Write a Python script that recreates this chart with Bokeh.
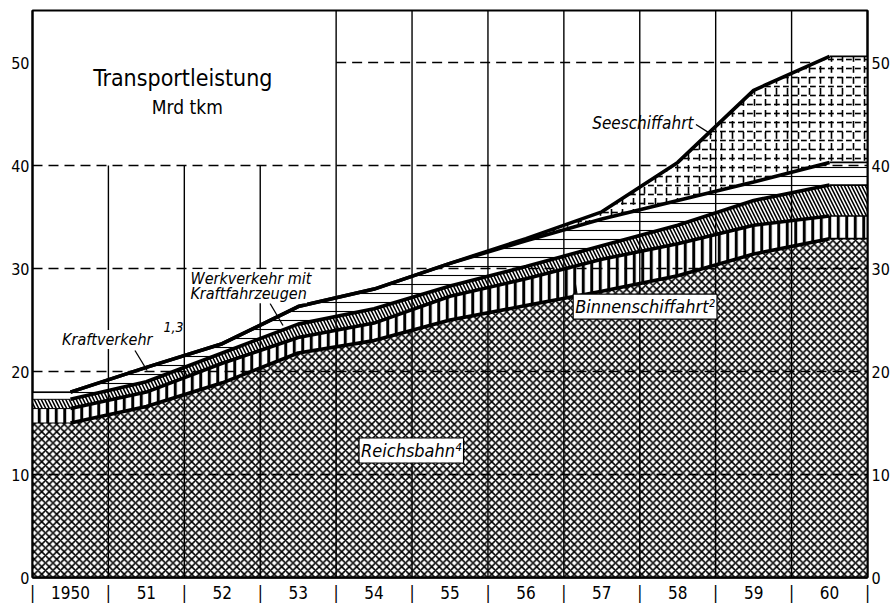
import numpy as np
from bokeh.plotting import figure
from bokeh.models import Range1d, LinearAxis, FixedTicker, Label, ColumnDataSource
from bokeh.embed import file_html
from bokeh.resources import INLINE

# ---------------- data (Mrd tkm) ----------------
years = [1950, 1951, 1952, 1953, 1954, 1955, 1956, 1957, 1958, 1959, 1960]
year_labels = ["1950", "51", "52", "53", "54", "55", "56", "57", "58", "59", "60"]
reichsbahn = [15.0, 16.6, 18.9, 21.8, 23.0, 25.0, 26.4, 27.8, 29.3, 31.4, 32.9]
binnenschiffahrt = [1.4, 1.4, 1.9, 1.5, 1.7, 2.3, 2.6, 3.1, 3.1, 2.8, 2.2]
kraftverkehr = [0.9, 1.0, 1.0, 1.3, 1.4, 1.0, 1.2, 1.3, 1.8, 2.4, 3.0]
werkverkehr = [0.7, 1.4, 0.9, 1.7, 1.9, 2.2, 2.5, 2.6, 2.4, 1.8, 2.2]
seeschiffahrt = [0.0, 0.0, 0.0, 0.0, 0.0, 0.0, 0.2, 0.7, 3.7, 8.9, 10.3]
y_ticks = [0, 10, 20, 30, 40, 50]

FONT = "DejaVu Sans Condensed"

# ------------- derived -------------
series = [reichsbahn, binnenschiffahrt, kraftverkehr, werkverkehr, seeschiffahrt]
cum = np.cumsum(np.array(series, dtype=float), axis=0)
lower = np.vstack([np.zeros(len(years)), cum[:-1]])

def ext(a):
    a = list(a)
    return [a[0]] + a + [a[-1]]

xs = [years[0] - 0.5] + list(years) + [years[-1] + 0.5]
x0, x1 = xs[0], xs[-1]
ytop = 55.05

p = figure(width=892, height=605, output_backend="svg", toolbar_location=None,
           x_range=Range1d(x0, x1), y_range=Range1d(0, ytop),
           min_border_left=32, min_border_right=23, min_border_top=10, min_border_bottom=28,
           y_axis_location="left")
p.xgrid.visible = False
p.ygrid.visible = False
p.outline_line_color = "black"
p.outline_line_width = 2
p.background_fill_color = "white"
p.border_fill_color = "white"

hatches = [
    dict(hatch_pattern="diagonal_cross", hatch_scale=7.5, hatch_weight=1.6),
    dict(hatch_pattern="vertical_line", hatch_scale=8.5, hatch_weight=3.0),
    dict(hatch_pattern="left_diagonal_line", hatch_scale=7, hatch_weight=1.6),
    dict(hatch_pattern="horizontal_line", hatch_scale=9, hatch_weight=1.1),
]

for i in range(4):
    src = ColumnDataSource(dict(x=xs, lo=ext(lower[i]), hi=ext(cum[i])))
    p.varea(x="x", y1="lo", y2="hi", source=src, fill_color="white",
            hatch_color="black", **hatches[i])

# dashed horizontal grid lines
for t in y_ticks[1:]:
    start = x0 if t < 50 else 1953.5
    p.line([start, x1], [t, t], line_color="black", line_width=1.4, line_dash="10 6")

# Seeschiffahrt
src_s = ColumnDataSource(dict(x=xs, lo=ext(lower[4]), hi=ext(cum[4])))
p.varea(x="x", y1="lo", y2="hi", source=src_s, fill_color="white",
        hatch_color="black", hatch_pattern="horizontal_dash", hatch_scale=9, hatch_weight=1.6)
p.varea(x="x", y1="lo", y2="hi", source=src_s, fill_alpha=0,
        hatch_color="black", hatch_pattern="vertical_dash", hatch_scale=11, hatch_weight=1.6)

# vertical year separators
bounds = [y + 0.5 for y in years[:-1]]
vtop = [40 if b < 1952.9 else ytop for b in bounds]
p.segment(x0=bounds, y0=[0] * len(bounds), x1=bounds, y1=vtop, line_color="black", line_width=1.4)

# boundary lines
for i in range(5):
    p.line(years, list(cum[i]), line_color="black", line_width=3.6)
    p.line([x0, years[0]], [cum[i][0]] * 2, line_color="black", line_width=1.0)
    p.line([years[-1], x1], [cum[i][-1]] * 2, line_color="black", line_width=1.6)

# axes
p.yaxis.ticker = FixedTicker(ticks=y_ticks)
p.yaxis.axis_line_width = 2
p.yaxis.axis_line_color = "black"
p.yaxis.major_tick_line_color = None
p.yaxis.minor_tick_line_color = None
p.yaxis.major_tick_out = 0
p.yaxis.major_tick_in = 0
p.yaxis.minor_tick_out = 0
p.yaxis.major_label_text_font = FONT
p.yaxis.major_label_text_font_size = "16px"
p.yaxis.major_label_text_color = "black"
p.yaxis.major_label_standoff = 3
ry = LinearAxis(ticker=FixedTicker(ticks=y_ticks), axis_line_width=2, axis_line_color="black",
                major_tick_line_color=None, minor_tick_line_color=None,
                major_tick_out=0, major_tick_in=0, minor_tick_out=0,
                major_label_text_font=FONT, major_label_text_font_size="16px",
                major_label_text_color="black", major_label_standoff=4)
p.add_layout(ry, "right")

xt = []
over = {}
for b in [years[0] - 0.5] + bounds + [years[-1] + 0.5]:
    xt.append(b)
    over[float(b)] = "|"
for y, lab in zip(years, year_labels):
    xt.append(y)
    over[float(y)] = lab
xt = sorted(xt)
p.xaxis.ticker = FixedTicker(ticks=xt)
p.xaxis.major_label_overrides = over
p.xaxis.axis_line_width = 2.5
p.xaxis.axis_line_color = "black"
p.xaxis.major_tick_line_color = None
p.xaxis.minor_tick_line_color = None
p.xaxis.major_tick_out = 0
p.xaxis.major_tick_in = 0
p.xaxis.minor_tick_out = 0
p.xaxis.major_label_text_font = FONT
p.xaxis.major_label_text_font_size = "17px"
p.xaxis.major_label_text_color = "black"
p.xaxis.major_label_standoff = 5

# ---------------- texts ----------------
def lab(x, y, text, size, align="left", style="italic", bg=None, border=None, pad=2):
    l = Label(x=x, y=y, text=text, text_font=FONT, text_font_size=f"{size}px",
              text_font_style=style, text_align=align, text_baseline="middle",
              text_color="black")
    if bg is not None:
        l.background_fill_color = bg
    if border is not None:
        l.border_line_color = border
        l.border_line_width = 1.2
    try:
        l.padding = pad
    except Exception:
        pass
    p.add_layout(l)

lab(1951.48, 48.45, "Transportleistung", 23, align="center", style="normal")
lab(1951.54, 45.7, "Mrd tkm", 19, align="center", style="normal")
lab(1957.54, 44.1, "Seeschiffahrt", 17, align="center")
lab(1949.89, 23.1, "Kraftverkehr", 16, bg="white", pad=0)
lab(1951.2, 24.3, "1,3", 14)
lab(1951.58, 29.0, "Werkverkehr mit", 16, bg="white", pad=0)
lab(1951.58, 27.55, "Kraftfahrzeugen", 16, bg="white", pad=0)
lab(1957.57, 26.3, "Binnenschiffahrt²", 18, align="center", bg="white", border="black", pad=2)
lab(1954.49, 12.33, "Reichsbahn⁴", 18, align="center", bg="white", border="black", pad=2)

# pointer strokes
p.segment(x0=[1958.24, 1950.85, 1952.63, 1956.64], y0=[43.98, 22.04, 26.6, 29.03],
          x1=[1958.45, 1951.01, 1952.80, 1956.68], y1=[43.0, 20.1, 24.47, 27.18],
          line_color="black", line_width=1.3)

open("out.html", "w").write(file_html(p, INLINE))
